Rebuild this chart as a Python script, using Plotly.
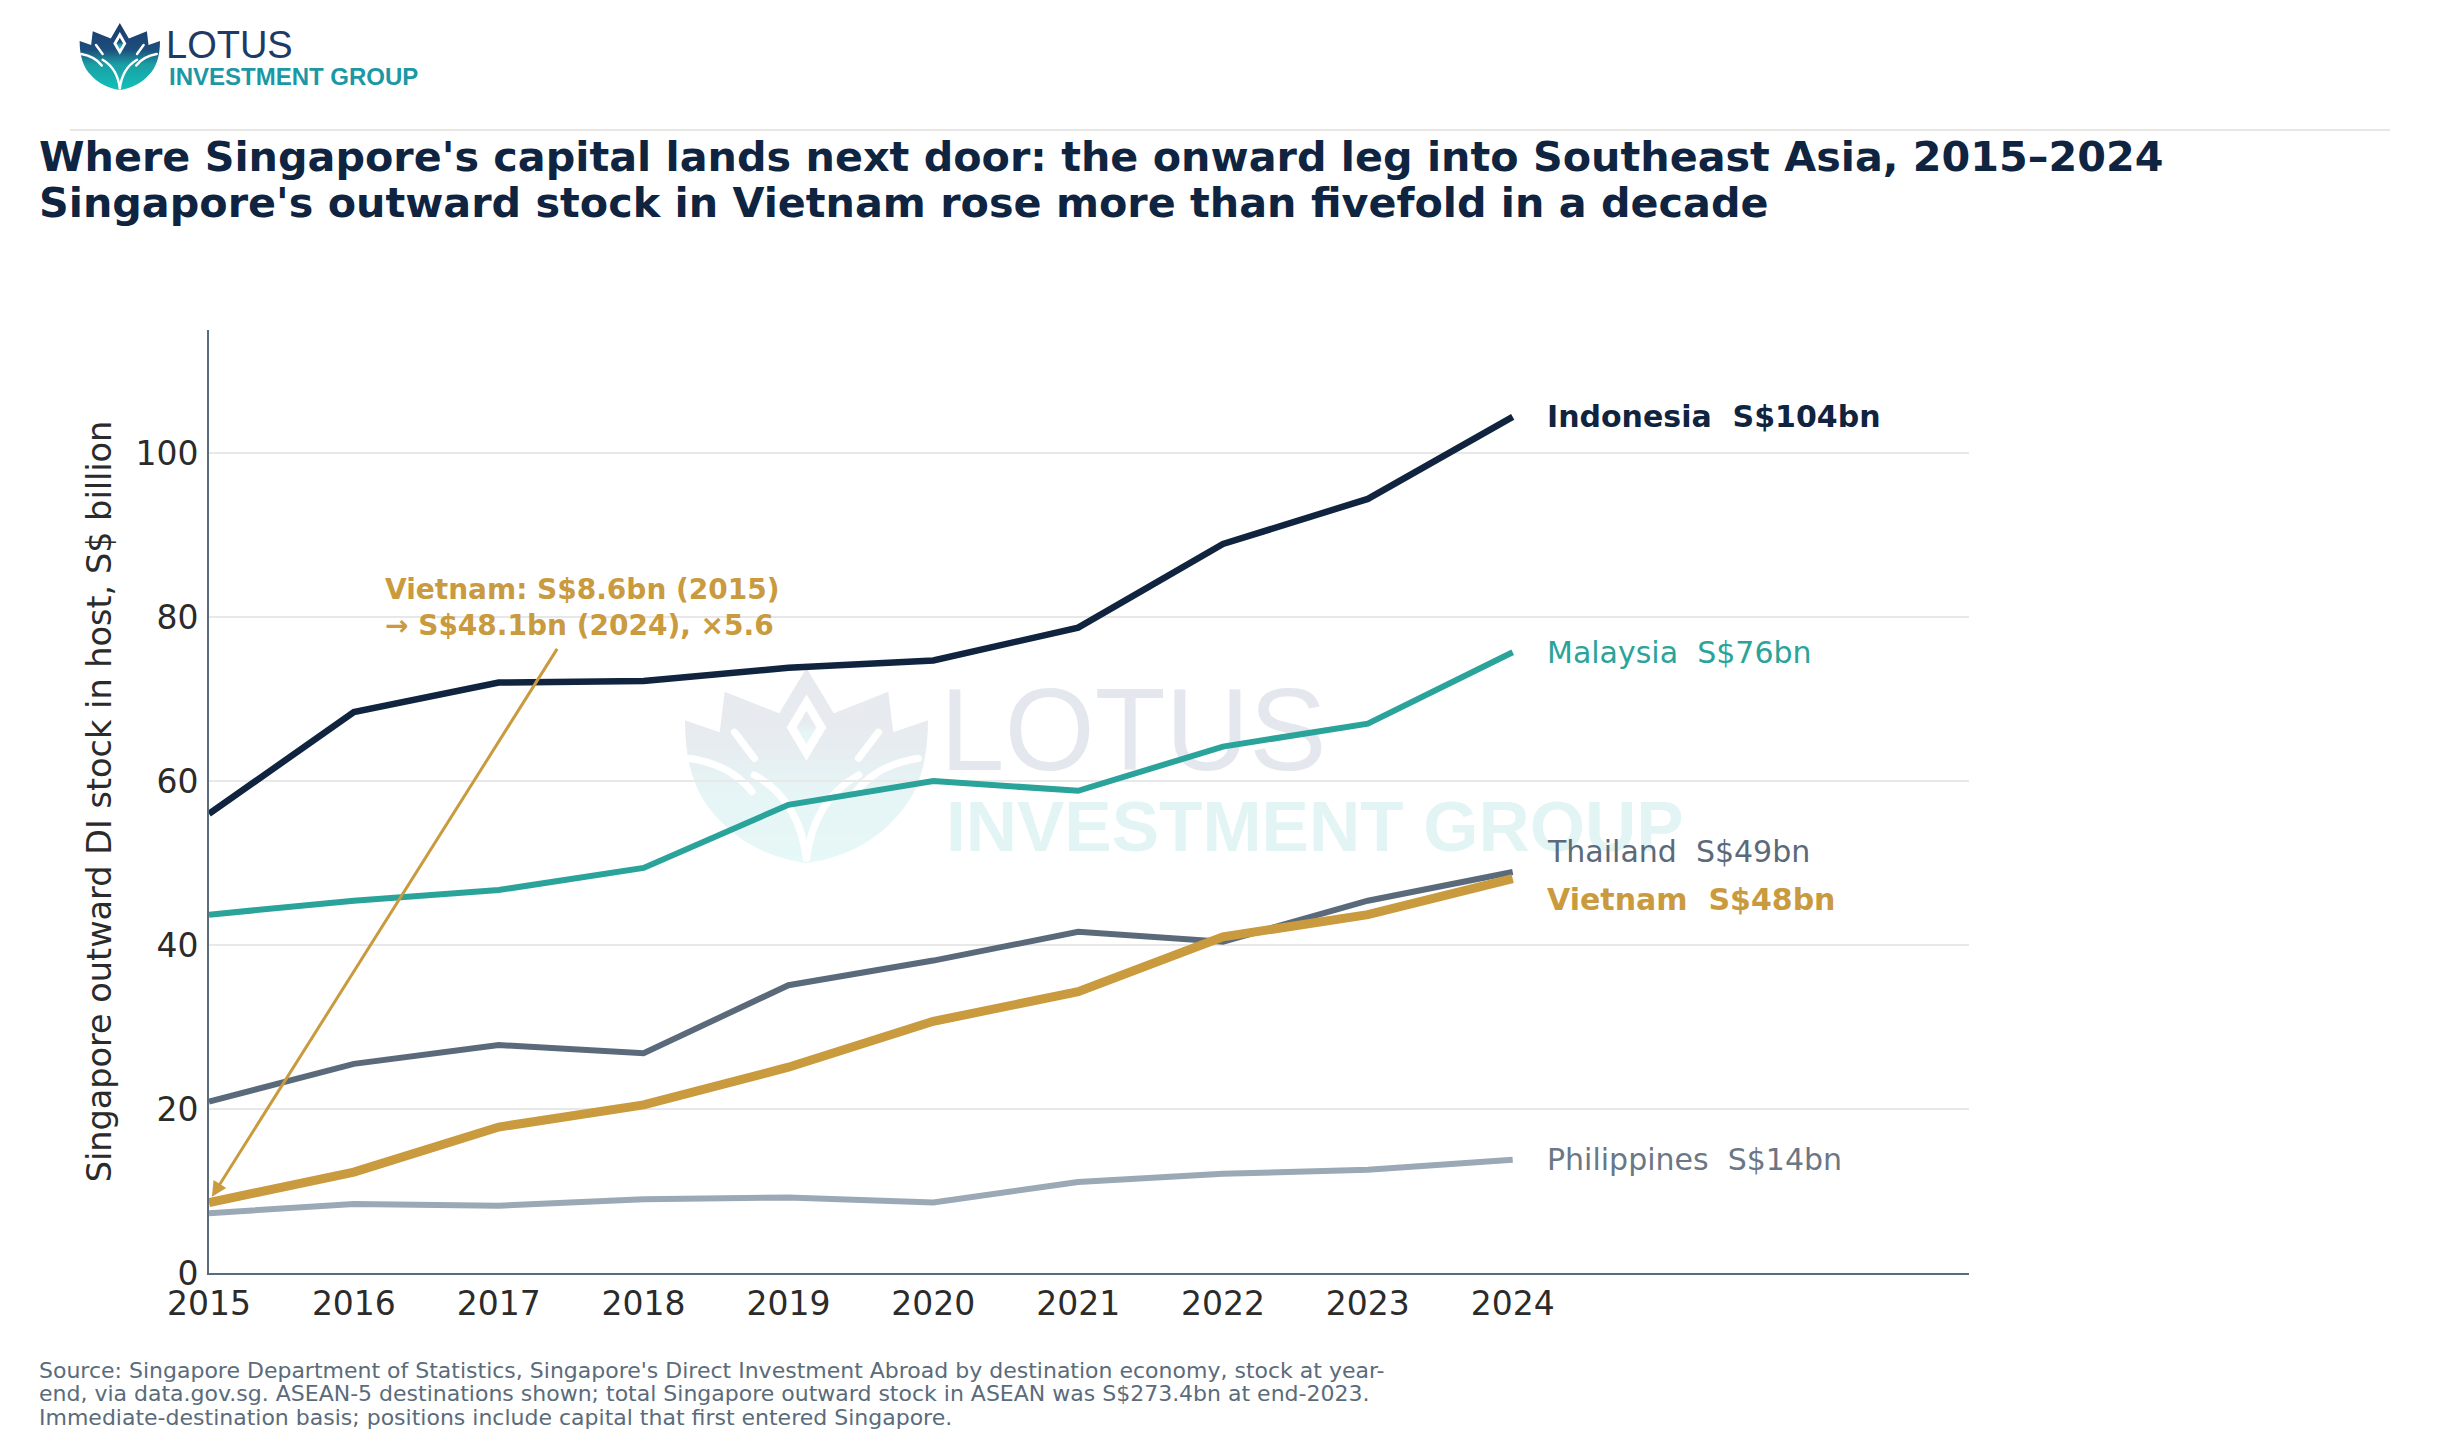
import base64
import plotly.graph_objects as go

# ---------------- data ----------------
years = [2015, 2016, 2017, 2018, 2019, 2020, 2021, 2022, 2023, 2024]
indonesia = [56.0, 68.4, 72.0, 72.2, 73.8, 74.7, 78.7, 88.9, 94.4, 104.4]
malaysia = [43.7, 45.4, 46.7, 49.4, 57.1, 60.0, 58.8, 64.2, 67.0, 75.7]
thailand = [20.9, 25.5, 27.8, 26.8, 35.1, 38.1, 41.6, 40.4, 45.4, 48.9]
vietnam = [8.6, 12.3, 17.8, 20.5, 25.1, 30.7, 34.3, 41.0, 43.7, 48.1]
philippines = [7.3, 8.4, 8.2, 9.0, 9.2, 8.6, 11.1, 12.1, 12.6, 13.8]
y_ticks = [0, 20, 40, 60, 80, 100]
x_tick_labels = [str(y) for y in years]

title_line1 = "Where Singapore's capital lands next door: the onward leg into Southeast Asia, 2015–2024"
title_line2 = "Singapore's outward stock in Vietnam rose more than fivefold in a decade"
y_title = "Singapore outward DI stock in host, S$ billion"
footnote_lines = [
    "Source: Singapore Department of Statistics, Singapore's Direct Investment Abroad by destination economy, stock at year-",
    "end, via data.gov.sg. ASEAN-5 destinations shown; total Singapore outward stock in ASEAN was S$273.4bn at end-2023.",
    "Immediate-destination basis; positions include capital that first entered Singapore.",
]

FONT = "DejaVu Sans"
NAVY = "#10243f"
TEAL = "#2aa39a"
SLATE = "#5b6a7a"
GOLD = "#c99a3e"
LIGHT = "#9aa9b5"

series = [
    # name, values, color, width, bold, label color, label offset
    ("Philippines", philippines, LIGHT, 6, False, "#6b7785", 0.0),
    ("Thailand", thailand, SLATE, 6, False, SLATE, 2.5),
    ("Malaysia", malaysia, TEAL, 6, False, TEAL, 0.0),
    ("Indonesia", indonesia, NAVY, 6.5, True, NAVY, 0.0),
    ("Vietnam", vietnam, GOLD, 9, True, GOLD, -2.5),
]

# ---------------- geometry ----------------
W, H = 2464, 1452
L, R, T, B = 209, 495, 330, 179
PW, PH = W - L - R, H - T - B
XMAX, YMAX = 2027.15, 115
XS, YS = PW / (XMAX - 2015), PH / YMAX


def px(x):
    return (x - L) / PW


def py(y):
    return (H - B - y) / PH


def dx(x):
    return 2015 + (x - L) / XS


def dy(y):
    return (H - B - y) / YS


# ---------------- logo svg ----------------
def logo_svg(opacity=1.0):
    return f'''<svg xmlns="http://www.w3.org/2000/svg" viewBox="0 0 100 82" width="400" height="328">
<defs><linearGradient id="g" x1="0" y1="0" x2="0" y2="1">
<stop offset="0" stop-color="#1b3a6b"/><stop offset="0.40" stop-color="#1d4f7c"/>
<stop offset="0.62" stop-color="#1a9fa5"/><stop offset="1" stop-color="#12c0b8"/></linearGradient></defs>
<g opacity="{opacity}">
<path fill="url(#g)" d="M51,0 L62,19 L84,10 L86,27 L100,22 C100,42 95,55 86,64 C78,73 66,80 51,82 C36,80 24,73 16,64 C7,55 2,42 2,22 L16,27 L18,10 L40,19 Z"/>
<path fill="#fff" d="M51,11 L43,25 L51,39 L59,25 Z"/>
<path fill="url(#g)" d="M51,18 L47,25 L51,32 L55,25 Z"/>
<g fill="none" stroke="#fff" stroke-width="3" stroke-linecap="round">
<path d="M51,80 C49,64 42,52 30,45"/>
<path d="M51,80 C53,64 60,52 72,45"/>
<path d="M4,38 C15,40 23,44 29,52"/>
<path d="M96,38 C85,40 77,44 71,52"/>
<path d="M22,27 L30,38"/>
<path d="M80,27 L72,38"/>
</g></g></svg>'''


def svg_uri(svg):
    return "data:image/svg+xml;base64," + base64.b64encode(svg.encode()).decode()


fig = go.Figure()

# watermark text (as text traces so lines draw above them)
fig.add_trace(go.Scatter(
    x=[dx(940)], y=[dy(741)],
    mode="text", text=["LOTUS"], textposition="middle right",
    textfont=dict(family="Liberation Sans", size=116, color="#e4e7ee"),
    hoverinfo="skip", showlegend=False))
fig.add_trace(go.Scatter(
    x=[dx(946)], y=[dy(833)],
    mode="text", text=["<b>INVESTMENT GROUP</b>"], textposition="middle right",
    textfont=dict(family="Liberation Sans", size=71, color="#e2f4f4"),
    hoverinfo="skip", showlegend=False))

for name, vals, color, width, bold, lcolor, off in series:
    fig.add_trace(go.Scatter(
        x=years, y=vals, mode="lines", name=name,
        line=dict(color=color, width=width),
        hoverinfo="skip", showlegend=False))
    val = vals[-1]
    label = f"{name}\u00a0 S${round(val):d}bn"
    if bold:
        label = f"<b>{label}</b>"
    fig.add_annotation(
        x=years[-1] + 0.22, y=val + off, xref="x", yref="y",
        text=label, showarrow=False, xanchor="left", yanchor="middle",
        font=dict(family=FONT, size=30, color=lcolor))

# arrow annotation for Vietnam
fig.add_annotation(
    x=years[0] + 0.02, y=vietnam[0] + 0.7, xref="x", yref="y",
    ax=2017.41, ay=76.3, axref="x", ayref="y",
    text="", showarrow=True, arrowhead=2, arrowsize=1.0, arrowwidth=3,
    arrowcolor=GOLD, standoff=0)
fig.add_annotation(
    x=2016.2, y=81.1, xref="x", yref="y",
    text=(f"<b>Vietnam: S${vietnam[0]}bn ({years[0]})<br>"
          f"→ S${vietnam[-1]}bn ({years[-1]}), ×{vietnam[-1] / vietnam[0]:.1f}</b>"),
    showarrow=False, xanchor="left", yanchor="middle", align="left",
    font=dict(family=FONT, size=28, color=GOLD))

# titles
fig.add_annotation(x=px(37), y=py(157), xref="paper", yref="paper",
                   text=f"<b>{title_line1}</b>", showarrow=False,
                   xanchor="left", yanchor="middle",
                   font=dict(family=FONT, size=41.3, color="#0f2440"))
fig.add_annotation(x=px(37), y=py(203), xref="paper", yref="paper",
                   text=f"<b>{title_line2}</b>", showarrow=False,
                   xanchor="left", yanchor="middle",
                   font=dict(family=FONT, size=41.3, color="#0f2440"))

# footnote
for i, line in enumerate(footnote_lines):
    fig.add_annotation(x=px(37), y=py(1370 + i * 23.5), xref="paper", yref="paper",
                       text=line, showarrow=False, xanchor="left", yanchor="middle",
                       font=dict(family=FONT, size=22, color="#5a6b7b"))

# logo text
fig.add_annotation(x=px(164), y=py(45), xref="paper", yref="paper",
                   text="LOTUS", showarrow=False, xanchor="left", yanchor="middle",
                   font=dict(family="Liberation Sans", size=38, color="#1e3a66"))
fig.add_annotation(x=px(167), y=py(77), xref="paper", yref="paper",
                   text="<b>INVESTMENT GROUP</b>", showarrow=False, xanchor="left",
                   yanchor="middle",
                   font=dict(family="Liberation Sans", size=24, color="#1b98a3"))

# separator line
fig.add_shape(type="line", xref="paper", yref="paper",
              x0=px(70), x1=px(2390), y0=py(130), y1=py(130),
              line=dict(color="#e2dfda", width=1.5))

# images
fig.add_layout_image(source=svg_uri(logo_svg()), xref="paper", yref="paper",
                     x=px(78), y=py(23), sizex=82 / PW, sizey=67 / PH,
                     sizing="stretch", xanchor="left", yanchor="top", layer="above")
fig.add_layout_image(source=svg_uri(logo_svg(0.10)), xref="x", yref="y",
                     x=dx(680), y=dy(668),
                     sizex=248 / XS, sizey=195 / YS,
                     sizing="stretch", xanchor="left", yanchor="top", layer="below")

fig.update_layout(
    width=W, height=H,
    margin=dict(l=L, r=R, t=T, b=B, autoexpand=False),
    paper_bgcolor="white", plot_bgcolor="white",
    showlegend=False,
    font=dict(family=FONT, color="#2b2b2b"),
    xaxis=dict(range=[2015, XMAX], tickvals=years, ticktext=x_tick_labels,
               showgrid=False, zeroline=False, showline=True, linecolor="#5a6b7b",
               linewidth=2, ticks="", tickfont=dict(family=FONT, size=33, color="#2b2b2b"),
               ticklabelstandoff=0, fixedrange=True),
    yaxis=dict(range=[0, YMAX], tickvals=y_ticks, showgrid=True, gridcolor="#e8e8e8",
               gridwidth=1.5, zeroline=False, showline=True, linecolor="#5a6b7b",
               linewidth=2, ticks="", tickfont=dict(family=FONT, size=33, color="#2b2b2b"),
               ticklabelstandoff=2,
               title=dict(text=y_title, font=dict(family=FONT, size=33.5, color="#2b2b2b"),
                          standoff=14),
               automargin=False, fixedrange=True),
)

fig.write_html("out.html")
